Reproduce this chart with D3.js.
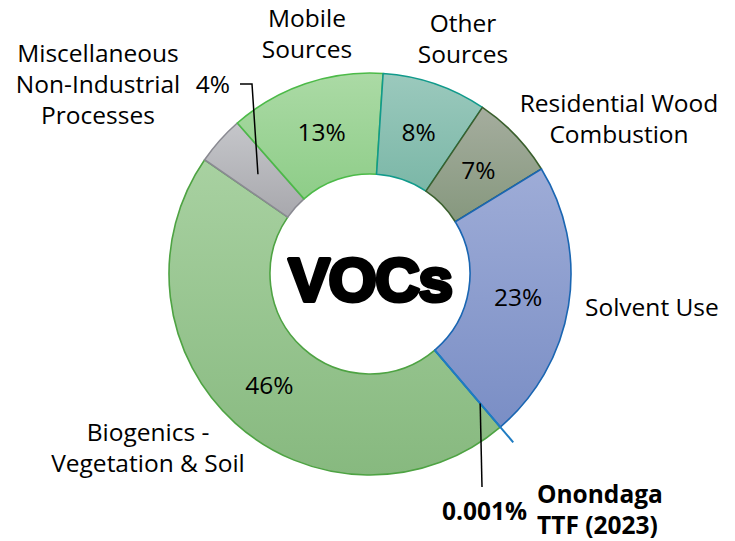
<!DOCTYPE html>
<html>
<head>
<meta charset="utf-8">
<script src="https://cdn.jsdelivr.net/npm/d3@7"></script>
<style>
  body { margin: 0; background: #fff; }
  text { font-family: "Open Sans", sans-serif; fill: #000; }
</style>
</head>
<body>
<script>
// chart size
var w = 735;
var h = 541;

// categories in series order (alphabetical, the way the sheet had them)
var categories = ["Biogenics - Vegetation & Soil", "Miscellaneous Non-Industrial Processes",
  "Mobile Sources", "Other Sources", "Residential Wood Combustion", "Solvent Use", "Onondaga TTF (2023)"];

// share of VOC emissions, %
var values = [45.8, 3.9, 12.5, 8.4, 6.8, 22.5, 0.001];

// label lines for each category
var labelLines = [
  ["Biogenics -", "Vegetation & Soil"],
  ["Miscellaneous", "Non-Industrial", "Processes"],
  ["Mobile", "Sources"],
  ["Other", "Sources"],
  ["Residential Wood", "Combustion"],
  ["Solvent Use"],
  ["Onondaga", "TTF (2023)"]
];

// fill gradient (top, bottom) and outline per slice
var topColors = ["#a8d1a1", "#c5c6ca", "#abdaa5", "#9bc9bd", "#a5ad9e", "#9eacd7", "#9eacd7"];
var bottomColors = ["#87b97f", "#a8a8ad", "#8ecd88", "#7bb7a7", "#86987e", "#7a8ec5", "#7a8ec5"];
var strokeColors = ["#4ea343", "#8a8a92", "#4cba48", "#119a8b", "#3a5f2d", "#1a66b2", "#1f7cc2"];

// where the category names sit
var labelPos = [
  {x: 148, y: 441, anchor: "middle"},
  {x: 98, y: 62, anchor: "middle"},
  {x: 307, y: 27, anchor: "middle"},
  {x: 463, y: 32, anchor: "middle"},
  {x: 619, y: 112, anchor: "middle"},
  {x: 585, y: 316, anchor: "start"},
  {x: 537, y: 503, anchor: "start"}
];

var cx = 370, cy = 274;
var rOuter = 201, rInner = 100;
var lineH = 31;
var fs = 24.5;

var svg = d3.select("body")
  .append("svg")
  .attr("width", w)
  .attr("height", h);

var defs = svg.append("defs");
categories.forEach(function(c, i) {
  var g = defs.append("linearGradient")
    .attr("id", "grad" + i)
    .attr("x1", 0).attr("y1", 0).attr("x2", 0).attr("y2", 1);
  g.append("stop").attr("offset", "0%").attr("stop-color", topColors[i]);
  g.append("stop").attr("offset", "100%").attr("stop-color", bottomColors[i]);
});

var startDeg = 139.6;
var pie = d3.pie()
  .sort(null)
  .startAngle(startDeg * Math.PI / 180)
  .endAngle(startDeg * Math.PI / 180 + 2 * Math.PI);

var arcs = pie(values);
var total = d3.sum(values);

var arc = d3.arc().innerRadius(rInner).outerRadius(rOuter);
var labelArc = d3.arc().innerRadius(150).outerRadius(150);

var chart = svg.append("g").attr("transform", "translate(" + cx + "," + cy + ")");

chart.selectAll("path.slice")
  .data(arcs)
  .enter().append("path")
  .attr("class", "slice")
  .attr("d", arc)
  .attr("fill", function(d, i) { return "url(#grad" + i + ")"; })
  .attr("stroke", function(d, i) { return strokeColors[i]; })
  .attr("stroke-width", 1.6)
  .attr("stroke-linejoin", "round");

// the tiny TTF slice shows only as its outline, drawn past the ring
var ttf = arcs[6];
var ttfA = (ttf.startAngle + ttf.endAngle) / 2;
var polar = function(a, r) { return [r * Math.sin(a), -r * Math.cos(a)]; };
chart.append("line")
  .attr("x1", polar(ttfA, rInner)[0]).attr("y1", polar(ttfA, rInner)[1])
  .attr("x2", polar(ttfA, rOuter + 20)[0]).attr("y2", polar(ttfA, rOuter + 20)[1])
  .attr("stroke", strokeColors[6])
  .attr("stroke-width", 2);

var fmt = function(v) {
  var p = v / total * 100;
  return (p < 0.01 ? d3.format(".3f")(p) : d3.format(".0f")(p)) + "%";
};

// percent labels inside the ring (all but the two with leader lines)
chart.selectAll("text.pct")
  .data(arcs.filter(function(d, i) { return i !== 1 && i !== 6; }))
  .enter().append("text")
  .attr("class", "pct")
  .attr("x", function(d) { return labelArc.centroid(d)[0]; })
  .attr("y", function(d) { return labelArc.centroid(d)[1]; })
  .attr("dy", "0.35em")
  .attr("text-anchor", "middle")
  .attr("font-size", fs)
  .text(function(d) { return fmt(d.value); });

// Misc leader line
var misc = arcs[1];
var mEnd = labelArc.centroid(misc);
chart.append("polyline")
  .attr("points", [[240 - cx, 84 - cy], [252 - cx, 84 - cy], mEnd].map(function(p) { return p.join(","); }).join(" "))
  .attr("fill", "none")
  .attr("stroke", "#000")
  .attr("stroke-width", 1.5);
svg.append("text")
  .attr("x", 230).attr("y", 93)
  .attr("text-anchor", "end")
  .attr("font-size", fs)
  .text(fmt(misc.value));

// TTF leader line
var tStart = polar(ttfA, 170);
chart.append("line")
  .attr("x1", tStart[0]).attr("y1", tStart[1])
  .attr("x2", 482 - cx).attr("y2", 487 - cy)
  .attr("stroke", "#000")
  .attr("stroke-width", 1.5);
svg.append("text")
  .attr("x", 527).attr("y", 520)
  .attr("text-anchor", "end")
  .attr("font-size", fs)
  .attr("font-weight", "bold")
  .text(fmt(ttf.value));

// category names
categories.forEach(function(c, i) {
  var t = svg.append("text")
    .attr("x", labelPos[i].x)
    .attr("y", labelPos[i].y)
    .attr("text-anchor", labelPos[i].anchor)
    .attr("font-size", fs)
    .attr("font-weight", i === 6 ? "bold" : "normal");
  labelLines[i].forEach(function(line, j) {
    t.append("tspan")
      .attr("x", labelPos[i].x)
      .attr("dy", j === 0 ? 0 : lineH)
      .text(line);
  });
});

// centre title
svg.append("text")
  .attr("x", cx)
  .attr("y", cy + 27)
  .attr("text-anchor", "middle")
  .attr("font-size", 62)
  .attr("font-weight", "bold")
  .attr("stroke", "#000")
  .attr("stroke-width", 4)
  .attr("stroke-linejoin", "round")
  .attr("letter-spacing", -1.5)
  .style("font-family", "'Liberation Sans', Arial, sans-serif")
  .text("VOCs");
</script>
</body>
</html>
